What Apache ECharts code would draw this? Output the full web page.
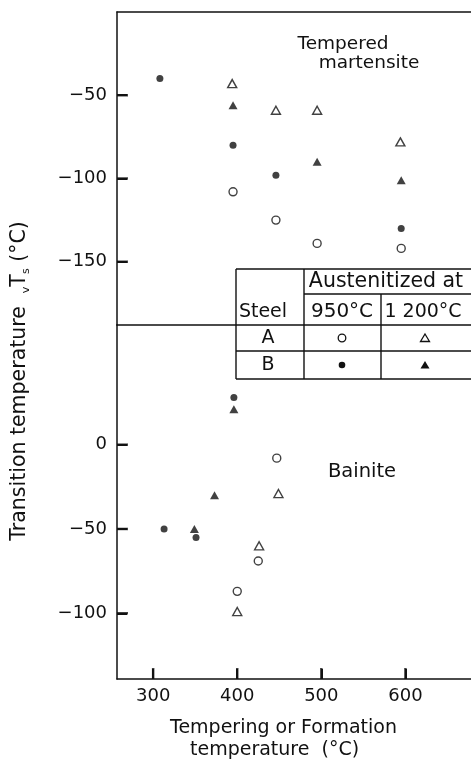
<!DOCTYPE html>
<html>
<head>
<meta charset="utf-8">
<script src="https://cdn.jsdelivr.net/npm/echarts@6/dist/echarts.min.js"></script>
<style>
  html, body { margin: 0; padding: 0; background: #fff; }
  #chart { width: 471px; height: 767px; }
</style>
</head>
<body>
<div id="chart"></div>
<script>
// tick values
const xTicks = [300, 400, 500, 600];
const upperTicks = [-150, -100, -50];
const lowerTicks = [-100, -50, 0];

// Tempered martensite: [tempering temp, transition temp]
const tmA950 = [[395, -108], [446, -125], [495, -139], [595, -142]];
const tmA1200 = [[394, -43], [446, -59], [495, -59], [594, -78]];
const tmB950 = [[308, -40], [395, -80], [446, -98], [595, -130]];
const tmB1200 = [[395, -56], [495, -90], [595, -101]];

// Bainite: [formation temp, transition temp]
const bA950 = [[447, -8], [425, -69], [400, -87]];
const bA1200 = [[449, -29], [426, -60], [400, -99]];
const bB950 = [[396, 28], [313, -50], [351, -55]];
const bB1200 = [[396, 21], [373, -30], [349, -50]];

// legend table text
const steels = ['A', 'B'];
const austTemps = ['950°C', '1 200°C'];

const X_MIN = 257, X_MAX = 678;
const UP_MIN = -188, UP_MAX = 0;
const LO_MIN = -139, LO_MAX = 71;

const FONT = 'DejaVu Sans';
const INK = '#111';

const chart = echarts.init(document.getElementById('chart'));

function markStyle(kind) {
  if (kind === 'openCircle') {
    return { symbol: 'circle', symbolSize: 8, itemStyle: { color: '#fff', borderColor: INK, borderWidth: 1.4 } };
  }
  if (kind === 'openTri') {
    return { symbol: 'triangle', symbolSize: [9, 8], itemStyle: { color: '#fff', borderColor: INK, borderWidth: 1.4 } };
  }
  if (kind === 'dot') {
    return { symbol: 'circle', symbolSize: 7, itemStyle: { color: INK } };
  }
  return { symbol: 'triangle', symbolSize: [9, 8], itemStyle: { color: INK } };
}

function scatter(data, kind, idx) {
  return Object.assign({
    type: 'scatter',
    xAxisIndex: idx,
    yAxisIndex: idx,
    data: data,
    silent: true
  }, markStyle(kind));
}

// inward tick marks, placed on the axes through the scales
function tickSeries(data, idx, vertical) {
  return {
    type: 'scatter',
    xAxisIndex: idx,
    yAxisIndex: idx,
    data: data,
    silent: true,
    clip: false,
    symbol: 'rect',
    symbolSize: vertical ? [2.5, 11] : [11, 2.5],
    symbolOffset: vertical ? [0, -5.5] : [5.5, 0],
    itemStyle: { color: INK }
  };
}

const minus = (v) => String(v).replace('-', '\u2212');
const axisLineStyle = { show: true, onZero: false, lineStyle: { color: INK, width: 1.5 } };
const tickLine = { color: INK, width: 2 };

function yAxisFor(idx, min, max, ticks) {
  return {
    gridIndex: idx,
    type: 'value',
    position: 'left',
    min: min,
    max: max,
    axisLine: axisLineStyle,
    splitLine: { show: false },
    axisTick: { show: true, inside: true, length: 10, customValues: ticks, lineStyle: tickLine },
    axisLabel: { show: true, customValues: ticks, formatter: minus, margin: 10, color: INK, fontFamily: FONT, fontSize: 18 }
  };
}

// x axes: a plain line at the top of each panel, labels on the bottom one
function xLine(idx) {
  return {
    gridIndex: idx,
    type: 'value',
    position: 'top',
    min: X_MIN,
    max: X_MAX,
    axisLine: axisLineStyle,
    splitLine: { show: false },
    axisTick: { show: false },
    axisLabel: { show: false }
  };
}

const xBottom = {
  gridIndex: 1,
  type: 'value',
  position: 'bottom',
  min: X_MIN,
  max: X_MAX,
  axisLine: axisLineStyle,
  splitLine: { show: false },
  axisTick: { show: true, inside: true, length: 10, customValues: xTicks, lineStyle: tickLine },
  axisLabel: { show: true, customValues: xTicks, margin: 8, color: INK, fontFamily: FONT, fontSize: 18 }
};

// table of symbols
const tb = { x0: 236, x1: 304, x2: 381, xr: 472, y0: 269, y1: 294, y2: 325, y3: 351, y4: 379 };
const tableLines = [
  [tb.x0, tb.y0, tb.xr, tb.y0],
  [tb.x1, tb.y1, tb.xr, tb.y1],
  [tb.x0, tb.y3, tb.xr, tb.y3],
  [tb.x0, tb.y4, tb.xr, tb.y4],
  [tb.x0, tb.y0, tb.x0, tb.y4],
  [tb.x1, tb.y0, tb.x1, tb.y4],
  [tb.x2, tb.y1, tb.x2, tb.y4]
];

function txt(x, y, s, size, align) {
  return {
    type: 'text', x: x, y: y, silent: true,
    style: { text: s, fill: INK, font: size + 'px "' + FONT + '"', textAlign: align || 'center', textVerticalAlign: 'middle' }
  };
}

function legendMark(cx, cy, kind) {
  const open = kind.indexOf('open') === 0;
  const style = open ? { fill: '#fff', stroke: INK, lineWidth: 1.3 } : { fill: INK };
  if (kind === 'openCircle' || kind === 'dot') {
    return { type: 'circle', silent: true, shape: { cx: cx, cy: cy, r: open ? 3.8 : 3.3 }, style: style };
  }
  return { type: 'polygon', silent: true, shape: { points: [[cx, cy - 4], [cx + 4.5, cy + 3.5], [cx - 4.5, cy + 3.5]] }, style: style };
}

const graphics = [];
tableLines.forEach(function (l) {
  graphics.push({ type: 'line', silent: true, shape: { x1: l[0], y1: l[1], x2: l[2], y2: l[3] }, style: { stroke: INK, lineWidth: 1.4 } });
});
graphics.push(txt(386, 282, 'Austenitized at', 20.5));
graphics.push(txt(263, 312, 'Steel', 19));
graphics.push(txt(342, 312, austTemps[0], 20));
graphics.push(txt(423, 312, austTemps[1], 19));
graphics.push(txt(268, 338, steels[0], 19));
graphics.push(txt(268, 365, steels[1], 19));
graphics.push(legendMark(342, 338, 'openCircle'));
graphics.push(legendMark(425, 338, 'openTri'));
graphics.push(legendMark(342, 365, 'dot'));
graphics.push(legendMark(425, 365, 'tri'));

// region labels
graphics.push(txt(343, 44, 'Tempered', 18.5));
graphics.push(txt(369, 63, 'martensite', 18.5));
graphics.push(txt(362, 472, 'Bainite', 19.5));

// axis titles
graphics.push(txt(170, 728, 'Tempering or Formation', 19, 'left'));
graphics.push(txt(190, 750, 'temperature  (°C)', 19, 'left'));
graphics.push({
  type: 'text', x: 20, y: 381, rotation: Math.PI / 2, silent: true,
  style: {
    text: 'Transition temperature  {s|v}T{s|s} (°C)',
    fill: INK, font: '20.5px "' + FONT + '"', textAlign: 'center', textVerticalAlign: 'middle',
    rich: { s: { fontSize: 11, fontFamily: FONT, fill: INK, verticalAlign: 'bottom', lineHeight: 24 } }
  }
});

const option = {
  backgroundColor: '#fff',
  animation: false,
  grid: [
    { left: 117, right: 0, top: 12, height: 313 },
    { left: 117, right: 0, top: 325, height: 354 }
  ],
  xAxis: [xLine(0), xBottom, xLine(1)],
  yAxis: [yAxisFor(0, UP_MIN, UP_MAX, upperTicks), yAxisFor(1, LO_MIN, LO_MAX, lowerTicks)],
  series: [
    tickSeries(upperTicks.map((v) => [X_MIN, v]), 0, false),
    tickSeries(lowerTicks.map((v) => [X_MIN, v]), 1, false),
    tickSeries(xTicks.map((v) => [v, LO_MIN]), 1, true),
    scatter(tmA950, 'openCircle', 0),
    scatter(tmA1200, 'openTri', 0),
    scatter(tmB950, 'dot', 0),
    scatter(tmB1200, 'tri', 0),
    scatter(bA950, 'openCircle', 1),
    scatter(bA1200, 'openTri', 1),
    scatter(bB950, 'dot', 1),
    scatter(bB1200, 'tri', 1)
  ],
  graphic: graphics
};

chart.setOption(option);
</script>
</body>
</html>
